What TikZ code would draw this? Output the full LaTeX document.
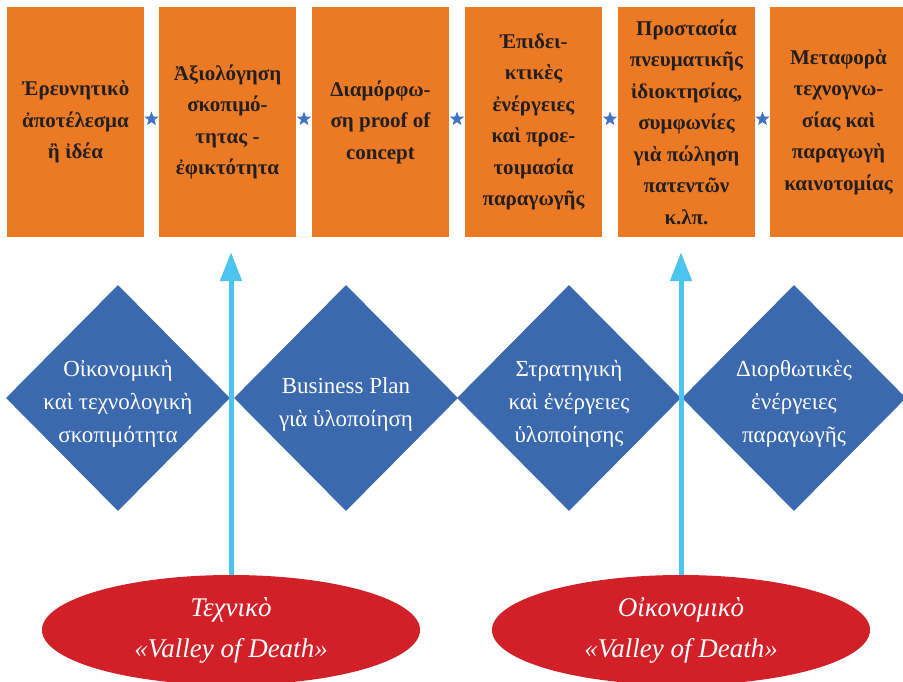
\documentclass[tikz,border=0pt]{standalone}
\usepackage{fontspec}
\setmainfont{Liberation Serif}
\usetikzlibrary{shapes.geometric,arrows.meta}

\definecolor{boxorange}{HTML}{EC7A24}
\definecolor{boxtext}{HTML}{231F20}
\definecolor{diablue}{HTML}{3A69AE}
\definecolor{valred}{HTML}{D12027}
\definecolor{arrcyan}{HTML}{4DC3EF}
\definecolor{starblue}{HTML}{4472C4}

\begin{document}
\begin{tikzpicture}[
    x=1pt, y=-1pt,
    stage/.style={fill=boxorange, minimum width=137pt, minimum height=230pt, inner sep=0pt, align=center, text=boxtext, font=\fontsize{21}{31.5}\selectfont\bfseries},
    sep/.style={star, star points=5, star point ratio=2.4, fill=starblue, minimum size=15pt, inner sep=0pt},
    dmd/.style={diamond, aspect=1, fill=diablue, minimum width=224pt, minimum height=226pt, inner sep=0pt},
    dtxt/.style={align=center, text=white, yshift=-6pt, font=\fontsize{23}{33}\selectfont},
    valley/.style={ellipse, fill=valred, minimum width=378pt, minimum height=110pt, inner sep=0pt, align=center, text=white, font=\fontsize{27}{41}\selectfont\itshape},
    up/.style={-{Triangle[width=21pt,length=29pt]}, line width=5pt, draw=arrcyan, shorten >=15pt},
  ]
    \useasboundingbox (0,0) rectangle (903,682);

    % --- process stages ---
    \node[stage] (a1) at (75.5, 122) {Ἐρευνητικὸ\\ἀποτέλεσμα\\ἢ ἰδέα};
    \node[stage] (a2) at (227.5,122) {Ἀξιολόγηση\\σκοπιμό-\\τητας -\\ἐφικτότητα};
    \node[stage] (a3) at (380.5,122) {Διαμόρφω-\\ση proof of\\concept};
    \node[stage] (a4) at (533.5,122) {Ἐπιδει-\\κτικὲς\\ἐνέργειες\\καὶ προε-\\τοιμασία\\παραγωγῆς};
    \node[stage] (a5) at (686.5,122) {Προστασία\\πνευματικῆς\\ἰδιοκτησίας,\\συμφωνίες\\γιὰ πώληση\\πατεντῶν\\κ.λπ.};
    \node[stage] (a6) at (838.5,122) {Μεταφορὰ\\τεχνογνω-\\σίας καὶ\\παραγωγὴ\\καινοτομίας};
    \node[sep] (s1) at (151.5,119) {};
    \node[sep] (s2) at (304,  119) {};
    \node[sep] (s3) at (457,  119) {};
    \node[sep] (s4) at (610,  119) {};
    \node[sep] (s5) at (762.5,119) {};

    % --- support actions ---
    \node[dmd] (d1) at (118,398) {};
    \node[dmd] (d2) at (346,398) {};
    \node[dmd] (d3) at (569,398) {};
    \node[dmd] (d4) at (794,398) {};
    \node[dtxt] (d1t) at (d1) {Οἰκονομικὴ\\καὶ τεχνολογικὴ\\σκοπιμότητα};
    \node[dtxt] (d2t) at (d2) {Business Plan\\γιὰ ὑλοποίηση};
    \node[dtxt] (d3t) at (d3) {Στρατηγικὴ\\καὶ ἐνέργειες\\ὑλοποίησης};
    \node[dtxt] (d4t) at (d4) {Διορθωτικὲς\\ἐνέργειες\\παραγωγῆς};

    % --- valleys of death ---
    \node[valley] (tv1) at (231,630) {Τεχνικὸ\\«Valley of Death»};
    \node[valley] (tv2) at (681,630) {Οἰκονομικὸ\\«Valley of Death»};
    \draw[up] (tv1.north) -- (tv1.north |- a2.south);
    \draw[up] (tv2.north) -- (tv2.north |- a5.south);
  \end{tikzpicture}
\end{document}
